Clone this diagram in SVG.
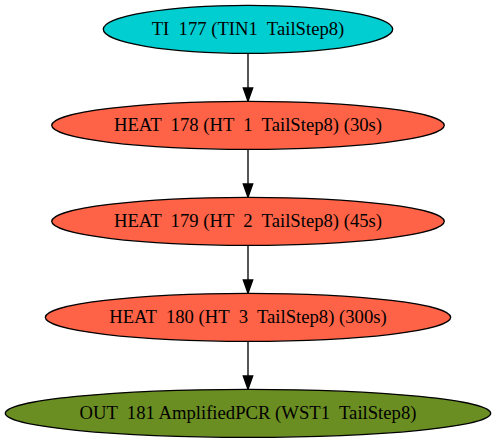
<svg xmlns="http://www.w3.org/2000/svg" width="496" height="443" viewBox="0 0 496 443">
<style>
.n ellipse{stroke:#000;stroke-width:1.33}
.n text{font-family:"Liberation Serif","Times New Roman",serif;font-size:18.67px;fill:#000;text-anchor:middle;white-space:pre}
.e line{stroke:#000;stroke-width:1.33}
.e polygon{fill:#000;stroke:#000;stroke-width:1.33}
</style>
<rect width="496" height="443" fill="#fff"/>
<g id="edges" class="e">
<line x1="248" y1="53.3" x2="248" y2="88"/>
<polygon points="243.3,88 248,101.3 252.7,88"/>
<line x1="248" y1="149.3" x2="248" y2="184"/>
<polygon points="243.3,184 248,197.3 252.7,184"/>
<line x1="248" y1="245.3" x2="248" y2="280"/>
<polygon points="243.3,280 248,293.3 252.7,280"/>
<line x1="248" y1="341.3" x2="248" y2="376"/>
<polygon points="243.3,376 248,389.3 252.7,376"/>
</g>
<g id="node1" class="n">
<ellipse cx="248" cy="29.33" rx="144.7" ry="24" fill="#00CED1"/>
<text x="248" y="35">TI  177 (TIN1  TailStep8)</text>
</g>
<g id="node2" class="n">
<ellipse cx="248" cy="125.33" rx="196.3" ry="24" fill="#FF6347"/>
<text x="248" y="131">HEAT  178 (HT  1  TailStep8) (30s)</text>
</g>
<g id="node3" class="n">
<ellipse cx="248" cy="221.33" rx="196.3" ry="24" fill="#FF6347"/>
<text x="248" y="227">HEAT  179 (HT  2  TailStep8) (45s)</text>
</g>
<g id="node4" class="n">
<ellipse cx="248" cy="317.33" rx="202.7" ry="24" fill="#FF6347"/>
<text x="248" y="323">HEAT  180 (HT  3  TailStep8) (300s)</text>
</g>
<g id="node5" class="n">
<ellipse cx="248" cy="413.33" rx="242.7" ry="24" fill="#6B8E23"/>
<text x="248" y="419">OUT  181 AmplifiedPCR (WST1  TailStep8)</text>
</g>
</svg>
